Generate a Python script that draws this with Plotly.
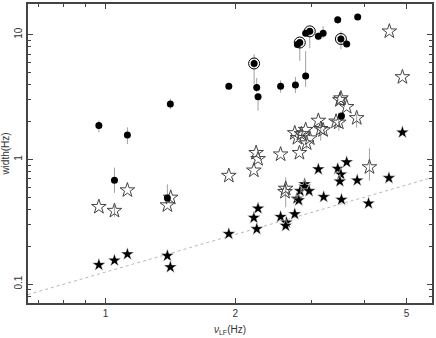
import plotly.graph_objects as go

# filled circles (with asymmetric errors on width)
circ_x = [0.965, 1.124, 1.414, 1.049, 1.392, 1.933, 2.213, 2.244, 2.26, 2.55, 2.76, 2.915,
          2.825, 2.79, 2.98, 2.915, 3.12, 3.2, 3.46, 3.85, 3.52, 3.63, 3.53]
circ_y = [1.87, 1.57, 2.79, 0.68, 0.492, 3.87, 5.89, 3.77, 3.19, 3.87, 3.96, 4.67,
          8.67, 8.35, 10.66, 10.3, 9.73, 10.3, 13.2, 13.9, 9.26, 8.45, 2.23]
circ_up = [0.18, 0.24, 0.29, 0.18, 0.14, 0, 1.1, 0.73, 0.2, 0.44, 0.63, 2.72,
           0.5, 0.3, 0.5, 0, 0.7, 1.4, 0.6, 0, 1.4, 0, 0]
circ_dn = [0.22, 0.24, 0.26, 0.14, 0, 0, 1.86, 0.3, 0.73, 0.43, 0.54, 0.85,
           2.5, 0.3, 2.86, 0, 0.7, 0.9, 1.0, 0, 1.6, 0, 0]

# circled points
ring_x = [2.213, 2.825, 2.98, 3.52]
ring_y = [5.89, 8.67, 10.66, 9.26]

# open stars
ostar_x = [0.965, 1.049, 1.124, 1.392, 1.417, 1.933, 2.21, 2.237, 2.26, 2.55, 2.62, 2.61,
           2.75, 2.79, 2.85, 2.915, 2.98, 2.93, 2.82, 3.12, 3.16, 3.2, 3.43, 3.48, 3.83,
           3.52, 3.5, 3.63, 4.10, 4.56, 4.89]
ostar_y = [0.417, 0.388, 0.567, 0.43, 0.495, 0.741, 0.817, 1.13, 1.01, 1.10, 0.584, 0.55,
           1.63, 1.49, 1.60, 1.73, 1.48, 1.35, 1.13, 2.05, 1.76, 1.72, 2.02, 1.98, 2.15,
           3.10, 3.0, 2.64, 0.868, 10.66, 4.58]
ostar_up = [0, 0.04, 0, 0, 0, 0, 0, 0, 0, 0, 0.135, 0,
            0, 0, 0, 0, 0, 0, 0, 0, 0.1, 0, 0, 0.4, 0.15,
            0, 0, 0, 0.36, 0, 0]
ostar_dn = [0, 0.04, 0, 0, 0, 0, 0, 0, 0, 0, 0.17, 0,
            0, 0, 0, 0, 0, 0.13, 0, 0, 0.34, 0, 0, 0.28, 0.35,
            0, 0, 0, 0.19, 0, 0]

# filled stars
fstar_x = [0.965, 1.049, 1.124, 1.392, 1.414, 1.933, 2.21, 2.26, 2.245, 2.55, 2.63, 2.62,
           2.75, 2.78, 2.81, 2.83, 2.90, 2.90, 2.97, 3.12, 3.21, 3.46, 3.52, 3.50, 3.53,
           3.63, 3.84, 4.08, 4.55, 4.89]
fstar_y = [0.143, 0.155, 0.174, 0.169, 0.137, 0.253, 0.341, 0.405, 0.277, 0.347, 0.313, 0.294,
           0.365, 0.486, 0.471, 0.559, 0.635, 0.605, 0.559, 0.835, 0.501, 0.843, 0.76, 0.668, 0.477,
           0.952, 0.68, 0.444, 0.71, 1.65]

# dotted reference line (end points)
line_x = [0.66, 5.8]
line_y = [0.0825, 0.725]

x_major = [1, 2, 5]
x_minor = [0.7, 0.8, 0.9, 3, 4]
y_major = [0.1, 1, 10]
y_minor = [0.08, 0.09, 0.2, 0.3, 0.4, 0.5, 0.6, 0.7, 0.8, 0.9, 2, 3, 4, 5, 6, 7, 8, 9]

fig = go.Figure()
fig.add_trace(go.Scatter(x=line_x, y=line_y, mode="lines",
                         line=dict(color="#b8b8b8", width=1, dash="dot")))
fig.add_trace(go.Scatter(x=fstar_x, y=fstar_y, mode="markers",
                         marker=dict(symbol="star", size=10, color="black",
                                     line=dict(color="white", width=0.5))))
fig.add_trace(go.Scatter(x=ostar_x, y=ostar_y, mode="markers",
                         error_y=dict(type="data", symmetric=False, array=ostar_up,
                                      arrayminus=ostar_dn, color="#a0a0a0", thickness=1, width=0),
                         marker=dict(symbol="star-open", size=11, color="#444",
                                     line=dict(width=1))))
fig.add_trace(go.Scatter(x=circ_x, y=circ_y, mode="markers",
                         error_y=dict(type="data", symmetric=False, array=circ_up,
                                      arrayminus=circ_dn, color="#a0a0a0", thickness=1, width=0),
                         marker=dict(symbol="circle", size=7, color="black")))
fig.add_trace(go.Scatter(x=ring_x, y=ring_y, mode="markers",
                         marker=dict(symbol="circle-open", size=11, color="black",
                                     line=dict(width=1))))

axis_common = dict(type="log", showgrid=False, zeroline=False, showline=True,
                   linecolor="#444", linewidth=1.5, mirror="allticks",
                   ticks="inside", ticklen=5, tickcolor="#444", tickwidth=1,
                   tickfont=dict(size=10, color="#333"))

fig.update_xaxes(**axis_common, range=[-0.18, 0.758], tickmode="array",
                 tickvals=x_major, ticktext=[str(v) for v in x_major],
                 minor=dict(tickmode="array", tickvals=x_minor, ticks="inside",
                            ticklen=3, tickcolor="#444", showgrid=False),
                 title=dict(text="<i>ν</i><sub>LF</sub>(Hz)", font=dict(size=10, color="#333"),
                            standoff=8))
fig.update_yaxes(**axis_common, range=[-1.151, 1.247], tickmode="array",
                 tickvals=y_major, ticktext=["0.1", "1", "10"], tickangle=-90,
                 minor=dict(tickmode="array", tickvals=y_minor, ticks="inside",
                            ticklen=3, tickcolor="#444", showgrid=False),
                 title=dict(text="width(Hz)", font=dict(size=10, color="#333"),
                            standoff=2))

fig.update_layout(width=436, height=338, showlegend=False,
                  margin=dict(l=28, r=3, t=2, b=35),
                  paper_bgcolor="white", plot_bgcolor="white",
                  font=dict(family="Liberation Sans, Arial, sans-serif", size=10))

fig.write_html("out.html", config={"displayModeBar": False},
               post_script="document.body.style.margin='0';")
